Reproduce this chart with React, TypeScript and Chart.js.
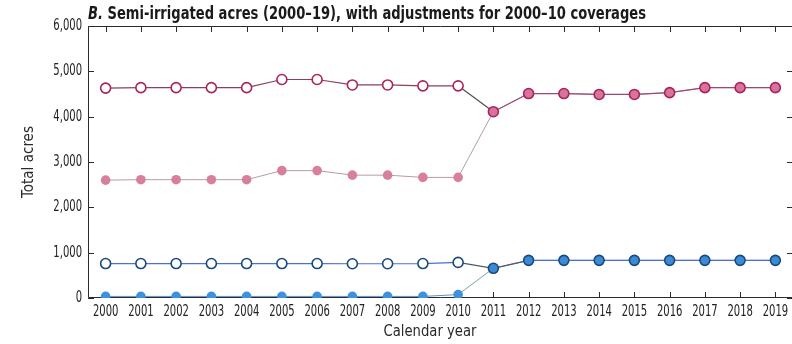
import React, { useEffect, useRef } from "react";
import { Chart, registerables } from "chart.js";

Chart.register(...registerables);

// Calendar years on the x axis
const years = [
  "2000", "2001", "2002", "2003", "2004", "2005", "2006", "2007", "2008", "2009",
  "2010", "2011", "2012", "2013", "2014", "2015", "2016", "2017", "2018", "2019",
];

// Pink series: adjusted coverages (open circles through 2010) and original coverages
const pinkAdjusted = [
  4630, 4640, 4640, 4640, 4640, 4820, 4820, 4700, 4700, 4680,
  4680, 4110, 4510, 4510, 4490, 4490, 4530, 4640, 4640, 4640,
];
const pinkOriginal = [
  2600, 2610, 2610, 2610, 2610, 2810, 2810, 2710, 2710, 2660,
  2660, 4110, 4510, 4510, 4490, 4490, 4530, 4640, 4640, 4640,
];

// Blue series: adjusted coverages and original coverages
const blueAdjusted = [
  760, 760, 760, 760, 760, 760, 760, 755, 755, 760,
  785, 655, 830, 830, 830, 830, 830, 830, 830, 830,
];
const blueOriginal = [
  35, 35, 35, 35, 35, 35, 35, 35, 35, 35,
  75, 655, 830, 830, 830, 830, 830, 830, 830, 830,
];

const yTicks = [0, 1000, 2000, 3000, 4000, 5000, 6000];

const TITLE_LEAD = "B.";
const TITLE_REST = " Semi-irrigated acres (2000\u201319), with adjustments for 2000\u201310 coverages";
const Y_TITLE = "Total acres";
const X_TITLE = "Calendar year";

const FONT = "'Liberation Sans Narrow', 'DejaVu Sans Condensed', 'Arial Narrow', sans-serif";
const LAST_ADJUSTED = 10; // index of 2010

const fmt = (v: number) => v.toLocaleString("en-US");

// Draw text squeezed/stretched horizontally to a given width
function fitText(
  ctx: CanvasRenderingContext2D,
  text: string,
  x: number,
  y: number,
  width: number,
  align: "left" | "center" | "right"
) {
  const w = ctx.measureText(text).width;
  const s = width / w;
  ctx.save();
  ctx.translate(x, y);
  ctx.scale(s, 1);
  ctx.textAlign = align;
  ctx.fillText(text, 0, 0);
  ctx.restore();
}

const framePlugin = {
  id: "frame",
  beforeDatasetsDraw(chart: any) {
    const { ctx, chartArea } = chart;
    const { left, right, top, bottom } = chartArea;
    const xs = chart.scales.x;
    const ys = chart.scales.y;
    ctx.save();
    ctx.strokeStyle = "#2b2b2b";
    ctx.lineWidth = 1;
    ctx.beginPath();
    ctx.rect(left + 0.5, top + 0.5, right - left - 1, bottom - top - 1);
    ctx.stroke();
    ctx.beginPath();
    const tl = 6;
    for (let i = 0; i < years.length; i++) {
      const px = Math.round(xs.getPixelForValue(i)) + 0.5;
      ctx.moveTo(px, bottom);
      ctx.lineTo(px, bottom - tl);
      ctx.moveTo(px, top);
      ctx.lineTo(px, top + tl);
    }
    for (const v of yTicks) {
      const py = Math.round(ys.getPixelForValue(v)) + 0.5;
      ctx.moveTo(left, py);
      ctx.lineTo(left + tl, py);
      ctx.moveTo(right, py);
      ctx.lineTo(right - tl, py);
    }
    ctx.stroke();

    // Tick labels, in a narrow face
    ctx.fillStyle = "#222222";
    ctx.font = `15px ${FONT}`;
    ctx.textBaseline = "middle";
    const sx = 25.5 / ctx.measureText("2000").width;
    for (let i = 0; i < years.length; i++) {
      const px = xs.getPixelForValue(i);
      ctx.save();
      ctx.translate(px, 312);
      ctx.scale(sx, 1);
      ctx.textAlign = "center";
      ctx.fillText(years[i], 0, 0);
      ctx.restore();
    }
    for (const v of yTicks) {
      const py = ys.getPixelForValue(v);
      ctx.save();
      ctx.translate(82, py);
      ctx.scale(sx, 1);
      ctx.textAlign = "right";
      ctx.fillText(fmt(v), 0, 0);
      ctx.restore();
    }
    ctx.restore();
  },
  afterDraw(chart: any) {
    const { ctx, chartArea } = chart;
    ctx.save();
    ctx.fillStyle = "#1a1a1a";
    ctx.textBaseline = "alphabetic";

    // Main title: bold italic lead letter followed by bold text
    ctx.font = `italic bold 18px ${FONT}`;
    const w1 = ctx.measureText(TITLE_LEAD).width;
    ctx.font = `bold 18px ${FONT}`;
    const w2 = ctx.measureText(TITLE_REST).width;
    const target = 558;
    const s = target / (w1 + w2);
    ctx.save();
    ctx.translate(chartArea.left, 19);
    ctx.scale(s, 1);
    ctx.textAlign = "left";
    ctx.font = `italic bold 18px ${FONT}`;
    ctx.fillText(TITLE_LEAD, 0, 0);
    ctx.font = `bold 18px ${FONT}`;
    ctx.fillText(TITLE_REST, w1, 0);
    ctx.restore();

    // Axis titles
    ctx.fillStyle = "#2a2a2a";
    ctx.font = `16px ${FONT}`;
    fitText(ctx, X_TITLE, 430, 336, 93, "center");
    ctx.save();
    ctx.translate(33, 162);
    ctx.rotate(-Math.PI / 2);
    fitText(ctx, Y_TITLE, 0, 0, 72, "center");
    ctx.restore();
    ctx.restore();
  },
};

export default function App() {
  const canvasRef = useRef<HTMLCanvasElement | null>(null);

  useEffect(() => {
    const canvas = canvasRef.current;
    if (!canvas) return;

    const openOrFill = (fill: string) => (c: any) =>
      c.dataIndex <= LAST_ADJUSTED ? "#ffffff" : fill;

    const chart = new Chart(canvas, {
      type: "line",
      data: {
        labels: years,
        datasets: [
          {
            label: "Pink adjusted",
            data: pinkAdjusted,
            borderColor: "#8a3f62",
            borderWidth: 1.2,
            pointRadius: 5,
            pointBorderWidth: 1.6,
            pointBorderColor: "#a8245c",
            pointBackgroundColor: openOrFill("#d8739d"),
            segment: {
              borderColor: (c: any) =>
                c.p0DataIndex === LAST_ADJUSTED ? "#5a4a52" : c.p0DataIndex > LAST_ADJUSTED ? "#9c4870" : "#8a3f62",
            },
          },
          {
            label: "Pink original",
            data: pinkOriginal,
            borderColor: "#b89aa6",
            borderWidth: 1,
            pointRadius: 4.8,
            pointBorderWidth: 0,
            pointBackgroundColor: "#d97f9e",
            pointBorderColor: "#d97f9e",
          },
          {
            label: "Blue adjusted",
            data: blueAdjusted,
            borderColor: "#4a6fd6",
            borderWidth: 1.2,
            pointRadius: 5,
            pointBorderWidth: 1.6,
            pointBorderColor: "#1c4a78",
            pointBackgroundColor: openOrFill("#3a8ad8"),
            segment: {
              borderColor: (c: any) =>
                c.p0DataIndex === LAST_ADJUSTED || c.p0DataIndex === LAST_ADJUSTED + 1 ? "#4f5a66" : "#4a6fd6",
            },
          },
          {
            label: "Blue original",
            data: blueOriginal,
            borderColor: "#5a8fd0",
            borderWidth: 1,
            pointRadius: 4.8,
            pointBorderWidth: 0,
            pointBackgroundColor: "#3d91dd",
            pointBorderColor: "#3d91dd",
            segment: {
              borderColor: (c: any) => (c.p0DataIndex === LAST_ADJUSTED ? "#7aa3a3" : "#5a8fd0"),
            },
          },
        ],
      },
      options: {
        responsive: false,
        animation: false,
        events: [],
        layout: { padding: { top: 26, right: 7, left: 0, bottom: 0 } },
        plugins: {
          legend: { display: false },
          tooltip: { enabled: false },
          title: { display: false },
        },
        scales: {
          x: {
            type: "category",
            offset: true,
            grid: { display: false, drawTicks: false },
            border: { display: false },
            ticks: { display: false, autoSkip: false },
            afterFit: (s: any) => {
              s.height = 46;
            },
          },
          y: {
            min: 0,
            max: 6000,
            grid: { display: false, drawTicks: false },
            border: { display: false },
            ticks: { display: false, stepSize: 1000 },
            afterFit: (s: any) => {
              s.width = 88;
            },
          },
        },
      },
      plugins: [framePlugin],
    } as any);

    return () => chart.destroy();
  }, []);

  return (
    <div
      style={{
        position: "fixed",
        left: 0,
        top: 0,
        width: 792,
        height: 344,
        overflow: "hidden",
        background: "#ffffff",
      }}
    >
      <canvas ref={canvasRef} width={800} height={344} style={{ width: 800, height: 344 }} />
    </div>
  );
}
